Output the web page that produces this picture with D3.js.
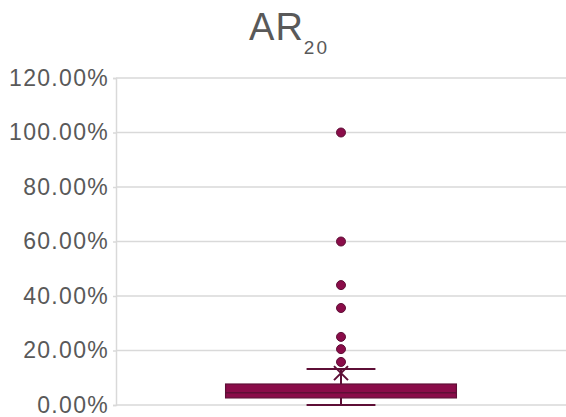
<!DOCTYPE html>
<html>
<head>
<meta charset="utf-8">
<script src="https://cdn.jsdelivr.net/npm/d3@7"></script>
<style>
  html, body { margin: 0; padding: 0; background: #fff; }
  svg { display: block; }
  text { font-family: "Liberation Sans", Arial, sans-serif; fill: #595959; }
</style>
</head>
<body>
<svg id="chart" width="566" height="417"></svg>
<script>
// Box summary for AR20 (fractions of 1)
const categories = ["AR20"];
const lowerWhisker = [0.0];
const q1 = [0.026];
const median = [0.045];
const q3 = [0.077];
const upperWhisker = [0.132];
const mean = [0.117];
const outliers = [[0.158, 0.205, 0.25, 0.356, 0.44, 0.60, 1.00]];
const yTicks = [0, 0.2, 0.4, 0.6, 0.8, 1.0, 1.2];

const svg = d3.select("#chart");
const margin = { left: 116, right: 0, top: 78, bottom: 12 };
const W = 566, H = 417;

const x = d3.scaleBand().domain(categories).range([margin.left, W - margin.right]).padding(0);
const y = d3.scaleLinear().domain([0, 1.2]).range([H - margin.bottom, margin.top]);

const fill = "#8a0c49", dark = "#5e0f36";

// gridlines
svg.append("g").selectAll("line").data(yTicks).join("line")
  .attr("x1", margin.left).attr("x2", W)
  .attr("y1", d => y(d)).attr("y2", d => y(d))
  .attr("stroke", "#d9d9d9").attr("stroke-width", 1.5);

// y axis
const yAxis = d3.axisLeft(y).tickValues(yTicks).tickFormat(d3.format(".2%")).tickSize(3).tickPadding(4);
const ga = svg.append("g").attr("transform", `translate(${margin.left},0)`).call(yAxis);
ga.select(".domain").attr("stroke", "#d9d9d9").attr("stroke-width", 1.5);
ga.selectAll(".tick line").attr("stroke", "#d9d9d9").attr("stroke-width", 1.5);
ga.selectAll(".tick text").attr("font-size", 23).attr("fill", "#595959")
  .attr("letter-spacing", 1.3)
  .attr("font-family", "'Liberation Sans', Arial, sans-serif");

// box
const g = svg.append("g");
categories.forEach((c, i) => {
  const cx = x(c) + x.bandwidth() / 2;
  const bw = x.bandwidth() * 0.513;
  const cap = x.bandwidth() * 0.153;
  // whiskers
  g.append("line").attr("x1", cx).attr("x2", cx).attr("y1", y(q3[i])).attr("y2", y(upperWhisker[i]))
    .attr("stroke", dark).attr("stroke-width", 2);
  g.append("line").attr("x1", cx).attr("x2", cx).attr("y1", y(q1[i])).attr("y2", y(lowerWhisker[i]))
    .attr("stroke", dark).attr("stroke-width", 2);
  [upperWhisker[i], lowerWhisker[i]].forEach(v => {
    g.append("line").attr("x1", cx - cap / 2).attr("x2", cx + cap / 2).attr("y1", y(v)).attr("y2", y(v))
      .attr("stroke", dark).attr("stroke-width", 2);
  });
  g.append("rect").attr("x", cx - bw / 2).attr("width", bw)
    .attr("y", y(q3[i])).attr("height", y(q1[i]) - y(q3[i]))
    .attr("fill", fill).attr("stroke", dark).attr("stroke-width", 1.2);
  g.append("line").attr("x1", cx - bw / 2).attr("x2", cx + bw / 2)
    .attr("y1", y(median[i])).attr("y2", y(median[i]))
    .attr("stroke", dark).attr("stroke-width", 1.5);
  // mean marker
  const m = y(mean[i]), s = 7;
  g.append("path").attr("d", `M${cx - s},${m - s}L${cx + s},${m + s}M${cx - s},${m + s}L${cx + s},${m - s}`)
    .attr("stroke", dark).attr("stroke-width", 2);
  // outliers
  g.selectAll(null).data(outliers[i]).join("circle")
    .attr("cx", cx).attr("cy", d => y(d)).attr("r", 4.5)
    .attr("fill", fill).attr("stroke", dark).attr("stroke-width", 1);
});

// title
const t = svg.append("text").attr("x", 289).attr("y", 40).attr("text-anchor", "middle");
t.append("tspan").attr("font-size", 38).attr("letter-spacing", 1).text("AR");
t.append("tspan").attr("font-size", 19).attr("letter-spacing", 2).attr("dy", 14).text("20");
</script>
</body>
</html>
